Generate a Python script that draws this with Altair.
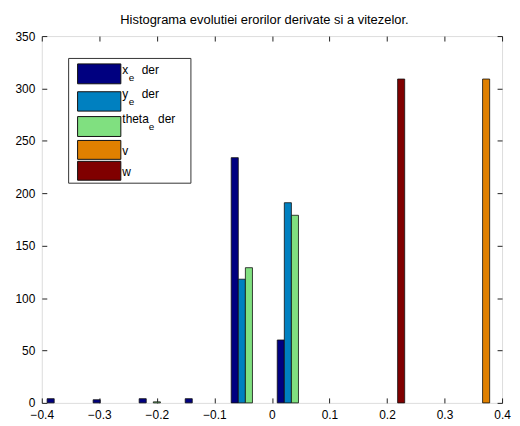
import altair as alt
import pandas as pd

# ---- data ----
series = ["xₑ der", "yₑ der", "thetaₑ der", "v", "w"]
leg_main = ["x", "y", "theta", "v", "w"]
leg_sub = ["e", "e", "e", "", ""]
leg_suffix = ["der", "der", "der", "", ""]
colors = ["#000080", "#0080C0", "#80E080", "#E08000", "#800000"]
bin_centers = [-0.36, -0.28, -0.20, -0.12, -0.04, 0.04, 0.12, 0.20, 0.28, 0.36]
x_e = [4, 3, 4, 4, 234, 60, 0, 0, 0, 0]
y_e = [0, 0, 0, 0, 118, 191, 0, 0, 0, 0]
theta_e = [0, 0, 1, 0, 129, 179, 0, 0, 0, 0]
v = [0, 0, 0, 0, 0, 0, 0, 0, 0, 309]
w = [0, 0, 0, 0, 0, 0, 0, 309, 0, 0]
title = "Histograma evolutiei erorilor derivate si a vitezelor."
x_ticks = [-0.4, -0.3, -0.2, -0.1, 0, 0.1, 0.2, 0.3, 0.4]
y_ticks = [0, 50, 100, 150, 200, 250, 300, 350]

counts = [x_e, y_e, theta_e, v, w]
rows = []
for si, (name, vals) in enumerate(zip(series, counts)):
    for c, n in zip(bin_centers, vals):
        rows.append({"series": name, "idx": si, "center": c, "count": n})
df = pd.DataFrame(rows)

legend_df = pd.DataFrame({"series": series, "main": leg_main, "sub": leg_sub,
                          "suffix": leg_suffix, "row": list(range(len(series)))})

FONT = "Liberation Sans"
BIN = 0.08
BW = BIN / 6.5  # MATLAB grouped bar width for 5 series
W, H = 463, 369

xscale = alt.Scale(domain=[-0.4, 0.4], nice=False, zero=False)
yscale = alt.Scale(domain=[0, 350], nice=False)
cscale = alt.Scale(domain=series, range=colors)

base = alt.Chart(df).transform_filter("datum.count > 0").transform_calculate(
    x0=f"datum.center + (datum.idx - 2.5) * {BW}",
    x1=f"datum.center + (datum.idx - 1.5) * {BW}",
)

ax_common = dict(grid=False, domain=False, offset=-5, tickSize=5, tickColor="#222",
                 labelFlush=False, labelFont=FONT, labelFontSize=12,
                 labelColor="black", title=None)

bars = base.mark_rect(stroke="#111", strokeWidth=0.8).encode(
    x=alt.X("x0:Q", scale=xscale,
            axis=alt.Axis(values=x_ticks, format="~g", labelPadding=7, orient="bottom", **ax_common)),
    x2="x1:Q",
    y=alt.Y("count:Q", scale=yscale,
            axis=alt.Axis(values=y_ticks, labelPadding=7, orient="left", **ax_common)),
    y2=alt.datum(0),
    color=alt.Color("series:N", scale=cscale, legend=None),
)

ghost = base.mark_rect(opacity=0).encode(
    x=alt.X("x0:Q", scale=xscale,
            axis=alt.Axis(values=x_ticks, labels=False, orient="top", **ax_common)),
    x2="x1:Q",
    y=alt.Y("count:Q", scale=yscale,
            axis=alt.Axis(values=y_ticks, labels=False, orient="right", **ax_common)),
    y2=alt.datum(0),
)

one = pd.DataFrame({"t": [title]})
title_mark = alt.Chart(one).mark_text(
    align="center", baseline="alphabetic", font=FONT, fontSize=13, color="black"
).encode(x=alt.value(224), y=alt.value(-12), text="t:N")

# ---- legend (drawn by hand to mimic MATLAB) ----
box = alt.Chart(one).mark_rect(
    fill="white", stroke="#333", strokeWidth=1
).encode(x=alt.value(27), x2=alt.value(150), y=alt.value(22.5), y2=alt.value(148))

leg = alt.Chart(legend_df).transform_calculate(
    top="[28, 56, 81, 105, 126][datum.row]",
    bot="[48, 75.5, 101, 124, 145][datum.row]",
    ty="[38, 62, 87, 120, 140.5][datum.row]",
    sy="[38, 62, 87, 120, 140.5][datum.row] + 7",
    sx="[87.5, 87.5, 107.5, 0, 0][datum.row]",
    fx="[100.5, 100.5, 117, 0, 0][datum.row]",
)
swatch = leg.mark_rect(stroke="#111", strokeWidth=1).encode(
    x=alt.value(36), x2=alt.value(79.5),
    y=alt.Y("top:Q", scale=None), y2="bot:Q",
    color=alt.Color("series:N", scale=cscale, legend=None),
)
txt = dict(align="left", baseline="alphabetic", font=FONT, color="black")
lab_main = leg.mark_text(fontSize=12, **txt).encode(
    x=alt.value(81), y=alt.Y("ty:Q", scale=None), text="main:N",
)
lab_sub = leg.transform_filter("datum.sub != ''").mark_text(fontSize=10, **txt).encode(
    x=alt.X("sx:Q", scale=None), y=alt.Y("sy:Q", scale=None), text="sub:N",
)
lab_suf = leg.transform_filter("datum.suffix != ''").mark_text(fontSize=12, **txt).encode(
    x=alt.X("fx:Q", scale=None), y=alt.Y("ty:Q", scale=None), text="suffix:N",
)

chart = alt.layer(bars, ghost, title_mark, box, swatch, lab_main, lab_sub, lab_suf).resolve_axis(
    x="independent", y="independent"
).properties(
    width=W, height=H,
    autosize=alt.AutoSizeParams(type="none"),
    padding={"left": 34, "top": 27, "right": 10, "bottom": 20},
).configure_view(stroke="#222", strokeWidth=1).configure(background="white")

chart.save("out.html", embed_options={"renderer": "svg", "actions": False})
